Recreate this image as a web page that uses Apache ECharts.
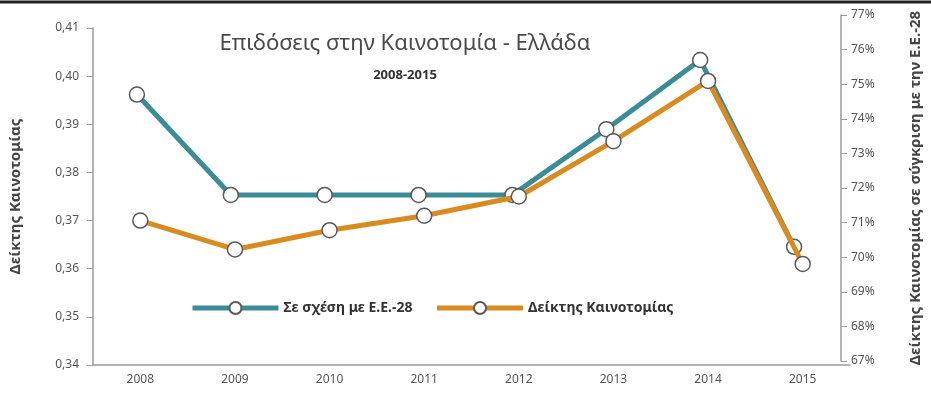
<!DOCTYPE html>
<html>
<head>
<meta charset="utf-8">
<script src="https://cdn.jsdelivr.net/npm/echarts@6/dist/echarts.min.js"></script>
<style>
  html, body { margin: 0; padding: 0; background: #fff; }
  #chart { width: 931px; height: 394px; }
</style>
</head>
<body>
<div id="chart"></div>
<script>
// Επιδόσεις στην Καινοτομία - Ελλάδα, 2008-2015
const years = ['2008', '2009', '2010', '2011', '2012', '2013', '2014', '2015']
// Σε σχέση με Ε.Ε.-28 (%), δεξιός άξονας
const relativeEU = [74.7, 71.8, 71.8, 71.8, 71.8, 73.7, 75.7, 70.3]
// Δείκτης Καινοτομίας, αριστερός άξονας
const innovationIndex = [0.370, 0.364, 0.368, 0.371, 0.375, 0.3865, 0.399, 0.361]

const fontFamily = '"Noto Sans", "Open Sans", sans-serif'
const axisGray = '#9a9a9a'
const labelGray = '#555'

const chart = echarts.init(document.getElementById('chart'))

const option = {
  backgroundColor: '#fff',
  textStyle: { fontFamily: fontFamily },
  title: [
    {
      text: 'Επιδόσεις στην Καινοτομία - Ελλάδα',
      left: 400,
      textAlign: 'center',
      top: 28,
      textStyle: { fontSize: 22, fontWeight: 'normal', color: '#4a4a4a', fontFamily: fontFamily },
    },
    {
      text: '2008-2015',
      left: 400,
      textAlign: 'center',
      top: 64,
      textStyle: { fontSize: 13, fontWeight: 'bold', color: '#333', fontFamily: fontFamily },
    },
  ],
  legend: {
    top: 296,
    left: 185,
    itemWidth: 86,
    itemHeight: 15,
    itemGap: 22,
    lineStyle: { width: 5 },
    textStyle: { fontSize: 14, fontWeight: 'bold', color: '#333', fontFamily: fontFamily },
    data: ['Σε σχέση με Ε.Ε.-28', 'Δείκτης Καινοτομίας'],
  },
  grid: [
    { left: 90, right: 81, top: 28, bottom: 29 },
    { left: 90, right: 81, top: 15, bottom: 33 },
  ],
  xAxis: [
    {
      type: 'category',
      gridIndex: 0,
      data: years,
      axisLine: { lineStyle: { color: axisGray, width: 1.5 } },
      axisTick: { alignWithLabel: true, length: 4, lineStyle: { color: axisGray } },
      axisLabel: { color: labelGray, fontSize: 12, margin: 9 },
    },
    {
      type: 'category',
      gridIndex: 1,
      data: years,
      show: false,
    },
  ],
  yAxis: [
    {
      type: 'value',
      gridIndex: 0,
      position: 'left',
      min: 0.34,
      max: 0.41,
      interval: 0.01,
      name: 'Δείκτης Καινοτομίας',
      nameLocation: 'middle',
      nameGap: 70,
      nameTextStyle: { fontSize: 15, fontWeight: 'bold', color: '#444' },
      axisLine: { show: true, lineStyle: { color: axisGray, width: 1.5 } },
      axisTick: { show: true, inside: false, length: 6, lineStyle: { color: axisGray } },
      splitLine: { show: false },
      axisLabel: {
        color: labelGray,
        fontSize: 12,
        margin: 14,
        formatter: (v) => v.toFixed(2).replace('.', ','),
      },
    },
    {
      type: 'value',
      gridIndex: 1,
      position: 'right',
      min: 67,
      max: 77,
      interval: 1,
      name: 'Δείκτης Καινοτομίας σε σύγκριση με την Ε.Ε.-28',
      nameLocation: 'middle',
      nameGap: 67,
      nameTextStyle: { fontSize: 15, fontWeight: 'bold', color: '#444' },
      axisLine: { show: true, lineStyle: { color: axisGray, width: 1.5 } },
      axisTick: { show: true, length: 6, lineStyle: { color: axisGray } },
      splitLine: { show: false },
      axisLabel: { color: labelGray, fontSize: 12, margin: 10, formatter: '{value}%' },
    },
  ],
  series: [
    {
      name: 'Σε σχέση με Ε.Ε.-28',
      type: 'line',
      xAxisIndex: 1,
      yAxisIndex: 1,
      data: relativeEU,
      symbol: 'circle',
      symbolSize: 15,
      color: '#3b8c99',
      lineStyle: { color: '#3b8c99', width: 5 },
      itemStyle: { color: '#fff', borderColor: '#5a5a5a', borderWidth: 1.5 },
      z: 2,
    },
    {
      name: 'Δείκτης Καινοτομίας',
      type: 'line',
      xAxisIndex: 0,
      yAxisIndex: 0,
      data: innovationIndex,
      symbol: 'circle',
      symbolSize: 15,
      color: '#d98b1f',
      lineStyle: { color: '#d98b1f', width: 5 },
      itemStyle: { color: '#fff', borderColor: '#5a5a5a', borderWidth: 1.5 },
      z: 3,
    },
  ],
  graphic: [
    {
      type: 'line',
      shape: { x1: 0, y1: 2, x2: 931, y2: 2 },
      style: { stroke: '#222', lineWidth: 3 },
    },
  ],
}

chart.setOption(option)
</script>
</body>
</html>
